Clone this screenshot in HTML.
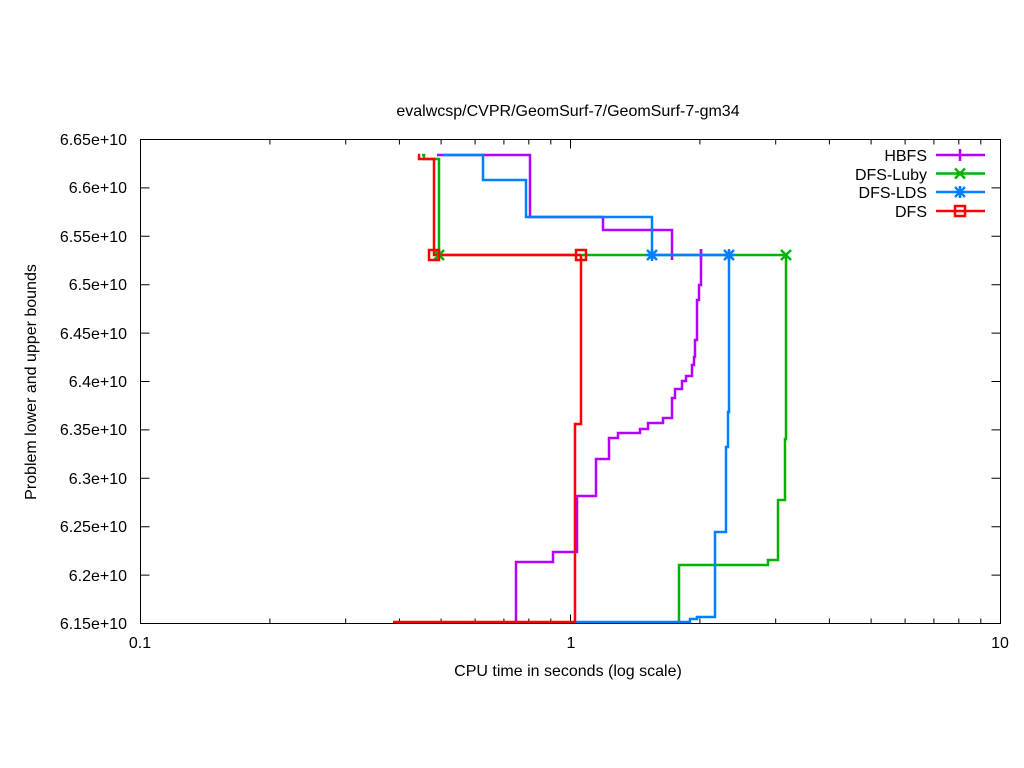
<!DOCTYPE html>
<html><head><meta charset="utf-8"><style>
html,body{margin:0;padding:0;background:#fff;}
svg{display:block;font-family:"Liberation Sans",Arial,sans-serif;}
</style></head><body>
<svg width="1024" height="768" viewBox="0 0 1024 768" xmlns="http://www.w3.org/2000/svg">
<rect width="1024" height="768" fill="#fff"/>
<g stroke="#000" stroke-width="1" fill="none">
<rect x="140.5" y="139.5" width="860" height="484"/>
<path d="
M140.5 623.5h9M1000.5 623.5h-9
M140.5 575.1h9M1000.5 575.1h-9
M140.5 526.7h9M1000.5 526.7h-9
M140.5 478.3h9M1000.5 478.3h-9
M140.5 429.9h9M1000.5 429.9h-9
M140.5 381.5h9M1000.5 381.5h-9
M140.5 333.1h9M1000.5 333.1h-9
M140.5 284.7h9M1000.5 284.7h-9
M140.5 236.3h9M1000.5 236.3h-9
M140.5 187.9h9M1000.5 187.9h-9
M140.5 139.5h9M1000.5 139.5h-9
M570.5 623.5v-9M570.5 139.5v9
M140.5 623.5v-9M140.5 139.5v9
M1000.5 623.5v-9M1000.5 139.5v9
"/>
<path d="
M269.9 623.5v-5M269.9 139.5v5
M345.7 623.5v-5M345.7 139.5v5
M399.4 623.5v-5M399.4 139.5v5
M441.1 623.5v-5M441.1 139.5v5
M475.1 623.5v-5M475.1 139.5v5
M503.9 623.5v-5M503.9 139.5v5
M528.8 623.5v-5M528.8 139.5v5
M550.8 623.5v-5M550.8 139.5v5
M699.9 623.5v-5M699.9 139.5v5
M775.7 623.5v-5M775.7 139.5v5
M829.4 623.5v-5M829.4 139.5v5
M871.1 623.5v-5M871.1 139.5v5
M905.1 623.5v-5M905.1 139.5v5
M933.9 623.5v-5M933.9 139.5v5
M958.8 623.5v-5M958.8 139.5v5
M980.8 623.5v-5M980.8 139.5v5
"/>
</g>
<g font-size="16" fill="#000" text-anchor="end">
<text x="127" y="629">6.15e+10</text>
<text x="127" y="581">6.2e+10</text>
<text x="127" y="532">6.25e+10</text>
<text x="127" y="484">6.3e+10</text>
<text x="127" y="435">6.35e+10</text>
<text x="127" y="387">6.4e+10</text>
<text x="127" y="339">6.45e+10</text>
<text x="127" y="290">6.5e+10</text>
<text x="127" y="242">6.55e+10</text>
<text x="127" y="193">6.6e+10</text>
<text x="127" y="145">6.65e+10</text>
</g>
<g font-size="16" fill="#000" text-anchor="middle">
<text x="140" y="648">0.1</text>
<text x="571" y="648">1</text>
<text x="1000" y="648">10</text>
<text x="568" y="676">CPU time in seconds (log scale)</text>
<text x="568" y="116">evalwcsp/CVPR/GeomSurf-7/GeomSurf-7-gm34</text>
<text transform="translate(36,382) rotate(-90)">Problem lower and upper bounds</text>
</g>
<g fill="none" stroke-width="2.5" stroke-linejoin="miter" stroke-linecap="butt">
<polyline stroke="#b300ff" points="437,155 530,155 530,217 603,217 603,230 672,230 672,260"/>
<polyline stroke="#b300ff" points="701,249 701,260"/>
<polyline stroke="#b300ff" points="516,622 516,562 553,562 553,552 577,552 577,496 596,496 596,459 609,459 609,438 618,438 618,433 640,433 640,429 648,429 648,423 663,423 663,418 672,418 672,398 675,398 675,389 682,389 682,381 686,381 686,376 692,376 692,365 694,365 694,357 695,357 695,340 697,340 697,300 699,300 699,285 701,285 701,249"/>
<polyline stroke="#00b400" points="422,155 424,155 424,159 439,159 439,255 786,255"/>
<polyline stroke="#00b400" points="679,622 679,565 768,565 768,560 778,560 778,500 785,500 785,439 786,439 786,255"/>
<polyline stroke="#0080ff" points="443,155 483,155 483,180 526,180 526,217 652,217 652,255 729,255"/>
<polyline stroke="#0080ff" points="575,622 690,622 690,619 697,619 697,617 715,617 715,532 726,532 726,447 728,447 728,412 729,412 729,255"/>
<polyline stroke="#ff0000" points="418,155 419,155 419,159 434,159 434,255 581,255"/>
<polyline stroke="#ff0000" points="393,622 575,622 575,424 581,424 581,255"/>
</g>
<g fill="none" stroke-width="2.5">
<path stroke="#00b400" d="M434 250l10 10M444 250l-10 10M781 250l10 10M791 250l-10 10"/>
<path stroke="#0080ff" d="M647 250l10 10M657 250l-10 10M652 249v12M646 255h12M724 250l10 10M734 250l-10 10M729 249v12M723 255h12"/>
<rect stroke="#ff0000" x="429" y="250" width="10" height="10"/>
<rect stroke="#ff0000" x="576" y="250" width="10" height="10"/>
</g>
<g font-size="16" fill="#000" text-anchor="end">
<text x="927" y="161">HBFS</text>
<text x="927" y="180">DFS-Luby</text>
<text x="927" y="198">DFS-LDS</text>
<text x="927" y="217">DFS</text>
</g>
<g fill="none" stroke-width="2.5">
<path stroke="#b300ff" d="M936 155h49M960 149v12"/>
<path stroke="#00b400" d="M936 173.5h49M955 168.5l10 10M965 168.5l-10 10"/>
<path stroke="#0080ff" d="M936 192h49M955 187l10 10M965 187l-10 10M960 186v12"/>
<path stroke="#ff0000" d="M936 211h49"/>
<rect stroke="#ff0000" x="955" y="206" width="10" height="10"/>
</g>
</svg>
</body></html>
